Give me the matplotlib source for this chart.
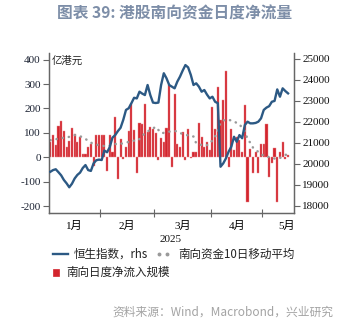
import matplotlib
matplotlib.use("Agg")
import matplotlib.pyplot as plt
from matplotlib.lines import Line2D
from matplotlib.patches import Rectangle
import numpy as np

plt.rcParams['font.family'] = ['Noto Sans CJK SC', 'DejaVu Sans']

# ---- data (one value per trading day) ----
# month boundaries in trading-day index, and month labels
month_edges = [0, 19, 39, 60, 79]
month_labels = ["1月", "2月", "3月", "4月", "5月"]
month_pos = [9.5, 29, 49.5, 69.5, 88]
year_label = "2025"

# 南向日度净流入规模 (亿港元)
flow = [64, 91, 50, 128, 148, 107, 44, 67, 121, 95, 61, 83, 14, 14, 41, 53, -35, 90, 90,
        90, 90, -56, 90, 20, 166, -89, 73, -7, 43, 107, 220, 110, -65, 139, 136, 217, 105, 125, 115,
        100, -12, 80, 62, 118, 295, -41, 261, 53, 44, 102, -12, 116, -4, 20, 23, 139, 84, 41, 61, 30,
        205, 116, 286, 152, 234, 354, -41, 116, 30, 82, 71, 23, 213, -181, 33, -65, 20, -65, 54,
        54, 135, -79, -24, 37, -184, 20, 64, -5, 10]

# 南向资金10日移动平均 (亿港元)
flow_ma10 = [70, 72, 74, 76, 78, 80, 80, 84, 88, 91, 89, 86, 82, 75, 68, 60, 55, 52, 50,
             48, 46, 45, 48, 53, 55, 52, 55, 58, 60, 63, 67, 68, 66, 75, 88, 98, 106, 112, 118,
             125, 112, 99, 100, 102, 105, 106, 107, 107, 100, 95, 92, 90, 87, 85, 57, 55, 50, 52, 50, 55,
             70, 85, 110, 142, 150, 155, 153, 151, 148, 140, 136, 120, 107, 74, 60, 40, 28, 23, 15,
             5, 3, 1, -2, -5, -7, -3, 4, 10, 12]

# 恒生指数 (rhs)
hsi = [19620, 19700, 19740, 19600, 19450, 19230, 19070, 18880, 19050, 19300, 19470, 19580, 19800,
       19940, 19700, 19660, 20020, 20170, 20200,
       20180, 20630, 20550, 20800, 21250, 21370, 21560, 21720, 22100, 22570, 22650, 22890, 23150,
       23120, 23440, 23350, 23280, 23760, 23280, 22920,
       22900, 22920, 23760, 24320, 24080, 23760, 23680, 23600, 23920, 24160, 24450, 24710, 24600,
       24240, 23760, 23840, 23680, 23440, 23520, 23300, 23120,
       23200, 22960, 22890, 19860, 20020, 20260, 20580, 20820, 21290, 21050, 21370, 21220, 21850,
       22010, 21930, 21930, 21950, 22010, 22170,
       22570, 22680, 22750, 22960, 23000, 23550, 23200, 23600, 23470, 23360]

left_ticks = [400, 300, 200, 100, 0, -100, -200]
right_ticks = [25000, 24000, 23000, 22000, 21000, 20000, 19000, 18000]

BLUE = "#2c5984"
RED = "#d3252d"
GREY = "#9a9a9a"
SPINE = "#666666"
SERIF = "Liberation Serif"

W, H = 354, 325
fig = plt.figure(figsize=(W / 100, H / 100), dpi=100)
ax = fig.add_axes([49 / W, 1 - 213 / H, 245 / W, 160 / H])
ax2 = ax.twinx()

x = np.arange(len(flow)) + 0.5
ax.bar(x, flow, width=0.78, color=RED, edgecolor="#ea8a8e", linewidth=0.3, zorder=2)
ax.plot(np.arange(len(flow_ma10)) + 0.5, flow_ma10, color=GREY, lw=1.8,
        linestyle=(0, (0.1, 2.4)), dash_capstyle="round", zorder=3)
ax2.plot(np.arange(len(hsi)) + 0.5, hsi, color=BLUE, lw=1.7, solid_joinstyle="round", zorder=4)

ax.set_xlim(0, 90.7)
ax.set_ylim(-228, 427)
ax2.set_ylim(17653, 25286)

ax.set_yticks(left_ticks)
ax.set_yticklabels([str(v) for v in left_ticks], family=SERIF, fontsize=8, color="#1c2333")
ax2.set_yticks(right_ticks)
ax2.set_yticklabels([str(v) for v in right_ticks], family=SERIF, fontsize=8, color="#111111")

ax.set_xticks(month_edges[1:])
ax.set_xticklabels([])
ax.set_xticks(month_pos, minor=True)
ax.set_xticklabels(month_labels, minor=True, fontsize=8, family=[SERIF, 'Noto Sans CJK SC'])
ax.tick_params(axis="x", which="major", direction="inout", length=6, color=SPINE, width=0.8)
ax.tick_params(axis="x", which="minor", length=0, pad=6)
ax.tick_params(axis="y", direction="out", length=4, color=SPINE, width=0.8, pad=2)
ax2.tick_params(axis="y", direction="out", length=4, color=SPINE, width=0.8, pad=2)

for a in (ax, ax2):
    a.spines["top"].set_visible(False)
    for s in ("left", "right", "bottom"):
        a.spines[s].set_color(SPINE)
        a.spines[s].set_linewidth(0.9)

ax.text(0.01, 0.985, "亿港元", transform=ax.transAxes, fontsize=7.5, va="top", ha="left",
        color="#222222")

fig.text(171 / W, 1 - 240 / H, year_label, ha="center", va="center", fontsize=8,
         family=SERIF, color="#111111")

# title
fig.text(175 / W, 1 - 14 / H, "图表 39: 港股南向资金日度净流量", ha="center", va="center",
         fontsize=11.3, fontweight="bold", color="#7d8ea8")

# legend, drawn by hand
fig.add_artist(Line2D([53 / W, 68 / W], [1 - 254 / H] * 2, color=BLUE, lw=1.7))
fig.text(74 / W, 1 - 254 / H, "恒生指数，rhs", va="center", fontsize=8.3, color="#222222")
fig.add_artist(Line2D([159 / W, 167 / W], [1 - 254 / H] * 2, color=GREY, lw=0,
                      marker="o", markersize=1.8))
fig.text(178 / W, 1 - 254 / H, "南向资金10日移动平均", va="center", fontsize=8.3,
         color="#222222")
fig.add_artist(Rectangle((53 / W, 1 - 276 / H), 6 / W, 7 / H, transform=fig.transFigure,
                         facecolor=RED, edgecolor=RED, lw=0.5))
fig.text(66 / W, 1 - 272 / H, "南向日度净流入规模", va="center", fontsize=8.3, color="#222222")

# source
fig.text(333 / W, 1 - 312 / H, "资料来源：Wind，Macrobond，兴业研究", ha="right", va="center",
         fontsize=8.5, color="#a3a3a3")

fig.savefig("out.png", dpi=100)
